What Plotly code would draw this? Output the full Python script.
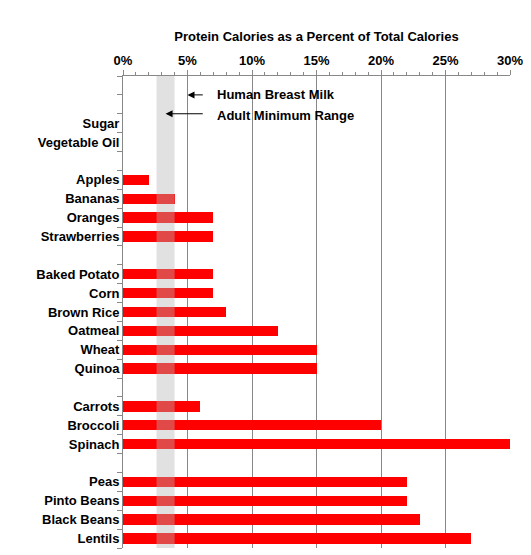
import plotly.graph_objects as go

foods = ['', '', 'Sugar', 'Vegetable Oil', '',
         'Apples', 'Bananas', 'Oranges', 'Strawberries', '',
         'Baked Potato', 'Corn', 'Brown Rice', 'Oatmeal', 'Wheat', 'Quinoa', '',
         'Carrots', 'Broccoli', 'Spinach', '',
         'Peas', 'Pinto Beans', 'Black Beans', 'Lentils']
protein = [None, None, 0, 0, None,
           2, 4, 7, 7, None,
           7, 7, 8, 12, 15, 15, None,
           6, 20, 30, None,
           22, 22, 23, 27]
adult_min_range = [2.6, 4.0]
breast_milk = 5

rows = list(range(len(foods)))
font = dict(family='Liberation Sans', size=13, color='black')

fig = go.Figure(go.Bar(x=protein, y=rows, orientation='h', width=0.55,
                       marker=dict(color='red', line_width=0)))

fig.add_shape(type='rect', xref='x', yref='paper', x0=adult_min_range[0], x1=adult_min_range[1],
              y0=0, y1=1, fillcolor='rgb(180,180,180)', opacity=0.4, line_width=0, layer='above')

fig.add_annotation(x=breast_milk, y=0.5, ax=6.3, ay=0.5, axref='x', ayref='y', arrowcolor='black',
                   showarrow=True, arrowhead=2, arrowsize=1.4, arrowwidth=1, text='')
fig.add_annotation(x=3.3, y=1.5, ax=6.3, ay=1.5, axref='x', ayref='y', arrowcolor='black',
                   showarrow=True, arrowhead=2, arrowsize=1.4, arrowwidth=1, text='')
fig.add_annotation(x=7.1, y=0.5, text='<b>Human Breast Milk</b>', showarrow=False, xanchor='left', font=font)
fig.add_annotation(x=7.1, y=1.6, text='<b>Adult Minimum Range</b>', showarrow=False, xanchor='left', font=font)

fig.update_xaxes(side='top', range=[0, 30], dtick=5, ticksuffix='%', showgrid=True, automargin=False,
                 gridcolor='#888', gridwidth=1, ticks='outside', ticklen=5, tickcolor='#888',
                 showline=True, linecolor='#888', zeroline=False,
                 minor=dict(dtick=1, ticklen=3, ticks='outside', tickcolor='#888', showgrid=False),
                 tickfont=font, tickprefix='<b>',
                 title=dict(text='<b>Protein Calories as a Percent of Total Calories</b>', font=font, standoff=8))
fig.update_yaxes(range=[len(foods) - 0.5, -0.5], tickvals=rows, automargin=False,
                 ticktext=['<b>%s</b>' % f if f else '' for f in foods],
                 tickfont=font, showgrid=False, showline=True, linecolor='#888', zeroline=False,
                 ticks='', minor=dict(tick0=0.5, dtick=1, ticklen=5, ticks='outside', tickcolor='#888'))

fig.update_layout(width=531, height=555, plot_bgcolor='white', paper_bgcolor='white',
                  margin=dict(l=115, r=29, t=68, b=15), showlegend=False, bargap=0)
fig.write_html('out.html')
